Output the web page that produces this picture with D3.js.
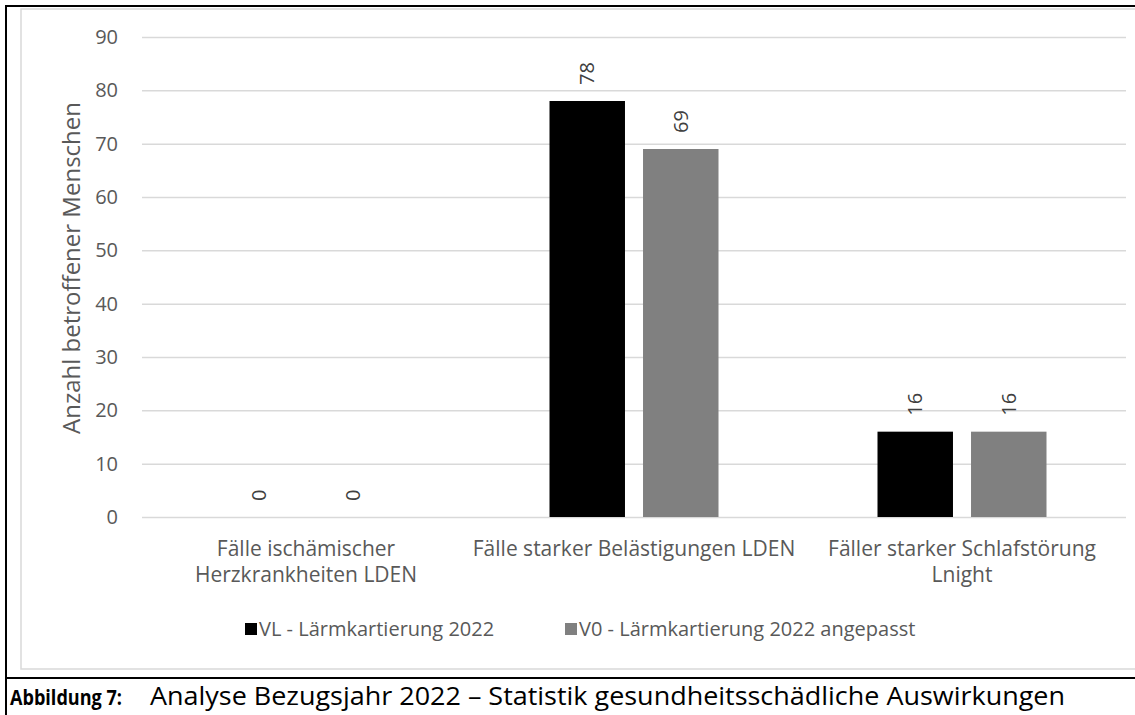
<!DOCTYPE html>
<html>
<head>
<meta charset="utf-8">
<script src="https://cdn.jsdelivr.net/npm/d3@7"></script>
<style>
  body { margin: 0; background: #fff; }
  svg text { font-family: "Open Sans", Roboto, sans-serif; }
</style>
</head>
<body>
<div id="chart"></div>
<script>
// chart values
var categories = [
    "Fälle ischämischer\nHerzkrankheiten LDEN",
    "Fälle starker Belästigungen LDEN",
    "Fäller starker Schlafstörung\nLnight"
];
var seriesNames = ["VL - Lärmkartierung 2022", "V0 - Lärmkartierung 2022 angepasst"];
var seriesColors = ["#000000", "#808080"];
var valuesVL = [0, 78, 16];
var valuesV0 = [0, 69, 16];
var yTicks = [0, 10, 20, 30, 40, 50, 60, 70, 80, 90];
var yTitle = "Anzahl betroffener Menschen";
var captionLabel = "Abbildung 7:";
var captionText = "Analyse Bezugsjahr 2022 – Statistik gesundheitsschädliche Auswirkungen";

let width = 1135, height = 715;
let plot = {left: 142, right: 1126, top: 37, bottom: 517};

let svg = d3.select("#chart").append("svg")
    .attr("width", width)
    .attr("height", height);

// frames
svg.append("rect")
    .attr("x", 21).attr("y", 9)
    .attr("width", 1130).attr("height", 660)
    .attr("fill", "none")
    .attr("stroke", "#d9d9d9")
    .attr("stroke-width", 1.5);

svg.append("path")
    .attr("d", "M6,715 V6 H1135")
    .attr("fill", "none")
    .attr("stroke", "#000")
    .attr("stroke-width", 2);
svg.append("line")
    .attr("x1", 6).attr("x2", width)
    .attr("y1", 678).attr("y2", 678)
    .attr("stroke", "#000")
    .attr("stroke-width", 2);

// scales
let x0 = d3.scaleBand()
    .domain(categories)
    .range([plot.left, plot.right])
    .padding(0);

let x1 = d3.scaleBand()
    .domain(seriesNames)
    .range([79.5, x0.bandwidth() - 79.5])
    .paddingInner(0.193)
    .paddingOuter(0);

let y = d3.scaleLinear()
    .domain([0, 90])
    .range([plot.bottom, plot.top]);

// y axis + gridlines
let yAxis = d3.axisLeft(y)
    .tickValues(yTicks)
    .tickSizeInner(-(plot.right - plot.left))
    .tickSizeOuter(0)
    .tickPadding(24);

let yAxisGroup = svg.append("g")
    .attr("transform", "translate(" + plot.left + ",0)")
    .call(yAxis);
yAxisGroup.select(".domain").remove();
yAxisGroup.selectAll("line")
    .attr("stroke", "#d9d9d9")
    .attr("stroke-width", 1.5);
yAxisGroup.selectAll("text")
    .attr("fill", "#595959")
    .attr("font-size", 20);

// y title
svg.append("text")
    .attr("transform", "translate(80,268) rotate(-90)")
    .attr("text-anchor", "middle")
    .attr("fill", "#595959")
    .attr("font-size", 24)
    .text(yTitle);

// x axis labels
let xAxis = d3.axisBottom(x0).tickSize(0).tickPadding(0);
let xAxisGroup = svg.append("g")
    .attr("transform", "translate(0," + plot.bottom + ")")
    .call(xAxis);
xAxisGroup.select(".domain").remove();
xAxisGroup.selectAll("text").each(function(d) {
    let t = d3.select(this).text("")
        .attr("fill", "#595959")
        .attr("font-size", 21)
        .attr("y", 0)
        .attr("dy", null);
    d.split("\n").forEach(function(line, i) {
        t.append("tspan")
            .attr("x", 0)
            .attr("y", 39 + i * 26)
            .text(line);
    });
});

// bars
let rows = categories.map(function(c, i) {
    return {cat: c, vals: [valuesVL[i], valuesV0[i]]};
});

let groups = svg.selectAll(".group")
    .data(rows)
    .enter().append("g")
    .attr("class", "group")
    .attr("transform", d => "translate(" + x0(d.cat) + ",0)");

groups.selectAll("rect")
    .data(d => d.vals.map((v, j) => ({name: seriesNames[j], value: v, color: seriesColors[j]})))
    .enter().append("rect")
    .attr("x", d => x1(d.name))
    .attr("y", d => y(d.value))
    .attr("width", x1.bandwidth())
    .attr("height", d => y(0) - y(d.value))
    .attr("fill", d => d.color);

// value labels
groups.selectAll(".val")
    .data(d => d.vals.map((v, j) => ({name: seriesNames[j], value: v})))
    .enter().append("text")
    .attr("class", "val")
    .attr("transform", d => "translate(" + (x1(d.name) + x1.bandwidth() / 2 + 7) + "," + (y(d.value) - 16) + ") rotate(-90)")
    .attr("text-anchor", "start")
    .attr("fill", "#404040")
    .attr("font-size", 20)
    .text(d => d.value);

// legend
let legendX = [245, 565];
let legend = svg.selectAll(".legend")
    .data(seriesNames)
    .enter().append("g")
    .attr("class", "legend")
    .attr("transform", (d, i) => "translate(" + legendX[i] + ",623)");
legend.append("rect")
    .attr("width", 12).attr("height", 12)
    .attr("fill", (d, i) => seriesColors[i]);
legend.append("text")
    .attr("x", 14)
    .attr("y", 13)
    .attr("fill", "#595959")
    .attr("font-size", 20)
    .text(d => d);

// caption
svg.append("text")
    .attr("x", 10).attr("y", 705)
    .attr("font-family", "Roboto, sans-serif")
    .attr("font-size", 22)
    .attr("font-weight", "bold")
    .attr("fill", "#000")
    .attr("textLength", 112)
    .attr("lengthAdjust", "spacingAndGlyphs")
    .text(captionLabel);
svg.append("text")
    .attr("x", 150).attr("y", 705)
    .attr("font-size", 25)
    .attr("fill", "#000")
    .attr("textLength", 915)
    .attr("lengthAdjust", "spacingAndGlyphs")
    .text(captionText);
</script>
</body>
</html>
